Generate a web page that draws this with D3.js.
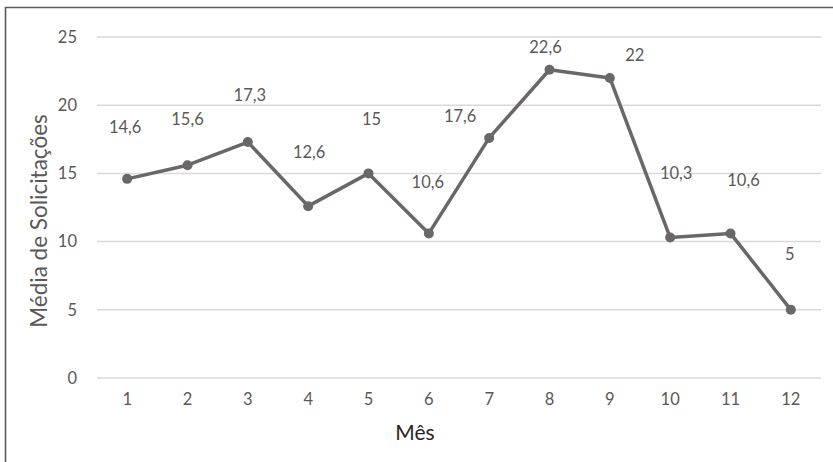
<!DOCTYPE html>
<html>
<head>
<meta charset="utf-8">
<script src="https://cdn.jsdelivr.net/npm/d3@7"></script>
<style>
  html, body { margin: 0; padding: 0; background: #fff; }
  svg { display: block; font-family: Lato, "Open Sans", sans-serif; }
</style>
</head>
<body>
<svg id="chart" width="833" height="462"></svg>
<script>
// Média de solicitações por mês
const months = [1, 2, 3, 4, 5, 6, 7, 8, 9, 10, 11, 12];
const averages = [14.6, 15.6, 17.3, 12.6, 15, 10.6, 17.6, 22.6, 22, 10.3, 10.6, 5];
const yTicks = [0, 5, 10, 15, 20, 25];
const xTitle = "Mês";
const yTitle = "Média de Solicitações";

// Hand-placed label nudges (dx, dy from each point, px)
const labelNudge = [
  [-2, -52], [0, -46], [2, -47], [1, -54], [3, -54], [-1, -51],
  [-29, -22], [-4, -23], [25, -23], [6, -65], [13, -53], [-1, -56]
];

const svg = d3.select("#chart");
const plot = { left: 97, right: 821, top: 37, bottom: 378 };
const textGrey = "#595959";

// chart frame (left and top edges)
svg.append("path")
  .attr("d", "M5.5,462 L5.5,7.5 L833,7.5")
  .attr("fill", "none").attr("stroke", "#5a5a5a").attr("stroke-width", 1.6);

const x = d3.scaleBand().domain(months).range([plot.left, plot.right]);
const y = d3.scaleLinear().domain([0, 25]).range([plot.bottom, plot.top]);

// horizontal gridlines
svg.append("g")
  .selectAll("line").data(yTicks).join("line")
  .attr("x1", plot.left).attr("x2", plot.right)
  .attr("y1", d => y(d)).attr("y2", d => y(d))
  .attr("stroke", "#d9d9d9").attr("stroke-width", 1.5);

// y axis tick labels
const yAxis = d3.axisLeft(y).tickValues(yTicks).tickSize(0).tickPadding(20);
svg.append("g").attr("transform", `translate(${plot.left},0)`).call(yAxis)
  .call(g => g.select(".domain").remove())
  .call(g => g.selectAll("text").attr("fill", textGrey).attr("font-size", 16.5)
    .attr("font-family", "Lato, sans-serif"));

// x axis tick labels
const xAxis = d3.axisBottom(x).tickSize(0).tickPadding(15);
svg.append("g").attr("transform", `translate(0,${plot.bottom})`).call(xAxis)
  .call(g => g.select(".domain").remove())
  .call(g => g.selectAll("text").attr("fill", textGrey).attr("font-size", 16.5)
    .attr("font-family", "Lato, sans-serif"));

const cx = d => x(d) + x.bandwidth() / 2;

// series line
const line = d3.line().x((d, i) => cx(months[i])).y(d => y(d));
svg.append("path").datum(averages)
  .attr("d", line).attr("fill", "none")
  .attr("stroke", "#6b6767").attr("stroke-width", 3.5)
  .attr("stroke-linejoin", "round");

// markers
svg.append("g").selectAll("circle").data(averages).join("circle")
  .attr("cx", (d, i) => cx(months[i])).attr("cy", d => y(d))
  .attr("r", 5).attr("fill", "#6b6767");

// value labels
const fmt = v => String(v).replace(".", ",");
svg.append("g").selectAll("text").data(averages).join("text")
  .attr("x", (d, i) => cx(months[i]) + labelNudge[i][0])
  .attr("y", (d, i) => y(d) + labelNudge[i][1])
  .attr("text-anchor", "middle").attr("dominant-baseline", "central")
  .attr("fill", textGrey).attr("font-size", 16.5)
  .text(fmt);

// axis titles
svg.append("text")
  .attr("x", 415).attr("y", 431)
  .attr("text-anchor", "middle").attr("dominant-baseline", "central")
  .attr("fill", "#262626").attr("font-size", 21)
  .text(xTitle);

svg.append("text")
  .attr("transform", "translate(38,221) rotate(-90)")
  .attr("text-anchor", "middle").attr("dominant-baseline", "central")
  .attr("fill", textGrey).attr("font-size", 22.5)
  .text(yTitle);
</script>
</body>
</html>
